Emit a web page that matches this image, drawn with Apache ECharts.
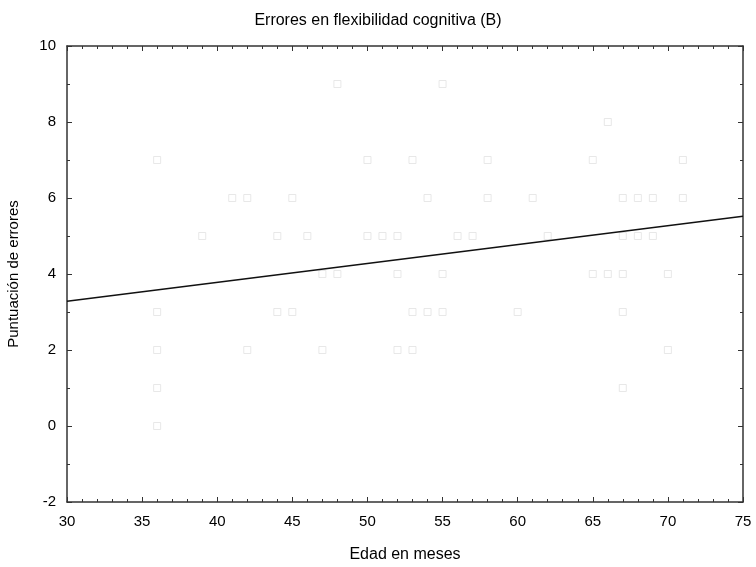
<!DOCTYPE html>
<html><head><meta charset="utf-8">
<script src="https://cdn.jsdelivr.net/npm/echarts@6/dist/echarts.min.js"></script>
<style>html,body{margin:0;padding:0;background:#fff}#c{width:756px;height:567px}</style>
</head><body><div id="c"></div>
<script>
var titleText = 'Errores en flexibilidad cognitiva (B)';
var xName = 'Edad en meses';
var yName = 'Puntuación de errores';
// scatter observations: age (months), error score
var ages =   [36,36,36,36,36, 48,55, 66, 50,53,58,65,71, 41,42,45,54,58,61,67,68,69,71, 39,44,46,50,51,52,56,57,62,67,68,69, 47,48,52,55,65,66,67,70, 44,45,53,54,55,60,67, 42,47,52,53,70, 67];
var scores = [7,3,2,1,0,    9,9,   8,  7,7,7,7,7,     6,6,6,6,6,6,6,6,6,6,          5,5,5,5,5,5,5,5,5,5,5,5,          4,4,4,4,4,4,4,4,          3,3,3,3,3,3,3,          2,2,2,2,2,      1];
// fitted regression line endpoints
var fitX = [30, 75];
var fitY = [3.28, 5.52];

var pts = ages.map(function(a,i){return [a, scores[i]];});
var fit = fitX.map(function(a,i){return [a, fitY[i]];});
var axisCol = '#333';
var font = 'Liberation Sans, Arial, sans-serif';
function xa(pos, show){
  return {type:'value', position:pos, min:30, max:75, interval:5,
    axisLine:{show:true, onZero:false, lineStyle:{color:axisCol, width:1.5}},
    axisTick:{show:true, inside:true, length:5, lineStyle:{color:axisCol}},
    minorTick:{show:true, splitNumber:5, length:3, lineStyle:{color:axisCol}},
    splitLine:{show:false},
    axisLabel:{show:show, color:'#000', fontSize:15, fontFamily:font, margin:12},
    name: show ? xName : '', nameLocation:'middle', nameGap:45,
    nameTextStyle:{color:'#000', fontSize:16, fontFamily:font}};
}
function ya(pos, show){
  return {type:'value', position:pos, min:-2, max:10, interval:2,
    axisLine:{show:true, onZero:false, lineStyle:{color:axisCol, width:1.5}},
    axisTick:{show:true, inside:true, length:5, lineStyle:{color:axisCol}},
    minorTick:{show:true, splitNumber:2, length:3, lineStyle:{color:axisCol}},
    splitLine:{show:false},
    axisLabel:{show:show, color:'#000', fontSize:15, fontFamily:font, margin:11},
    name: show ? yName : '', nameLocation:'middle', nameGap:46,
    nameTextStyle:{color:'#000', fontSize:15, fontFamily:font}};
}
var chart = echarts.init(document.getElementById('c'), null, {renderer:'canvas'});
chart.setOption({
  animation:false,
  backgroundColor:'#fff',
  title:{text:titleText, left:'center', top:8, textStyle:{color:'#000', fontSize:16, fontWeight:'normal', fontFamily:font}},
  grid:{left:67, right:13, top:46, bottom:65, containLabel:false, outerBoundsMode:'none'},
  xAxis:[xa('bottom', true), xa('top', false)],
  yAxis:[ya('left', true), ya('right', false)],
  series:[
    {type:'scatter', data:pts, symbol:'rect', symbolSize:7,
     itemStyle:{color:'rgba(0,0,0,0)', borderColor:'#e2e2e2', borderWidth:1}},
    {type:'line', data:fit, symbol:'none', lineStyle:{color:'#111', width:1.5}}
  ]
});
</script></body></html>
